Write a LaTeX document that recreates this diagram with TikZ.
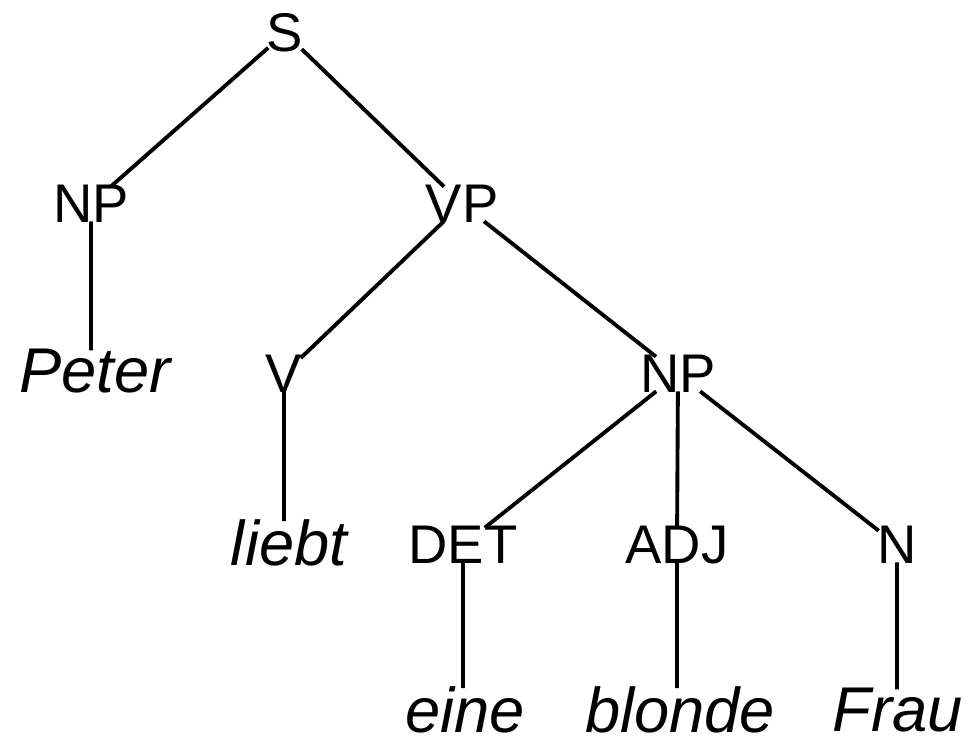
\documentclass[tikz,border=0pt]{standalone}
\usepackage{fontspec}
\setmainfont{Liberation Sans}
\begin{document}
\begin{tikzpicture}[x=0.02cm,y=-0.02cm,
  cat/.style={inner sep=-1pt,font=\fontsize{31}{36}\selectfont},
  word/.style={inner sep=-1pt,font=\fontsize{36}{42}\selectfont\itshape},
  branch/.style={line width=2.2pt}]
\useasboundingbox (0,0) rectangle (975,741);
% Level 0: sentence
\node[cat] (s) at (285,33) {S};
% Level 1: subject and predicate
\node[cat] (np) at (91,204) {NP};
\node[cat] (vp) at (462,204) {VP};
% Level 2
\node[word] (peter) at (95,371) {Peter};
\node[cat] (v) at (284,374) {V};
\node[cat] (npobj) at (678,374) {NP};
% Level 3
\node[word] (liebt) at (289,543) {liebt};
\node[cat] (det) at (463,545) {DET};
\node[cat] (adj) at (677,545) {ADJ};
\node[cat] (n) at (897,545) {N};
% Level 4: words of the object
\node[word] (eine) at (465,710) {eine};
\node[word] (blonde) at (680,710) {blonde};
\node[word] (frau) at (898,710) {Frau};
% Branches
\draw[branch] (s) -- (np);
\draw[branch] (s) -- (vp);
\draw[branch] (np) -- (np |- peter.north);
\draw[branch] (vp) -- (v);
\draw[branch] (vp) -- (npobj);
\draw[branch] (v) -- (v |- liebt.north);
\draw[branch] (npobj) -- (det);
\draw[branch] (npobj) -- (adj);
\draw[branch] (npobj) -- (n);
\draw[branch] (det) -- (det |- eine.north);
\draw[branch] (adj) -- (adj |- blonde.north);
\draw[branch] (n) -- (n |- frau.north);
\end{tikzpicture}
\end{document}
